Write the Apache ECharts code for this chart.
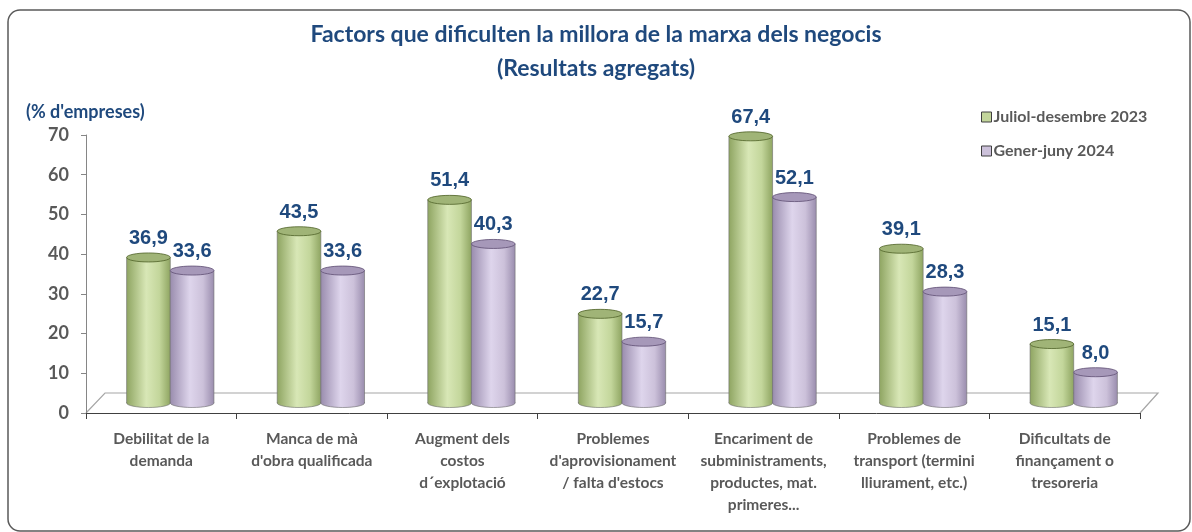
<!DOCTYPE html>
<html>
<head>
<meta charset="utf-8">
<script src="https://cdn.jsdelivr.net/npm/echarts@6/dist/echarts.min.js"></script>
<style>
  html, body { margin: 0; padding: 0; background: #fff; }
  #chart { width: 1192px; height: 532px; }
</style>
</head>
<body>
<div id="chart"></div>
<script>
const categories = [
  'Debilitat de la\ndemanda',
  'Manca de mà\nd\'obra qualificada',
  'Augment dels\ncostos\nd´explotació',
  'Problemes\nd\'aprovisionament\n/ falta d\'estocs',
  'Encariment de\nsubministraments,\nproductes, mat.\nprimeres...',
  'Problemes de\ntransport (termini\nlliurament, etc.)',
  'Dificultats de\nfinançament o\ntresoreria'
]
const seriesNames = ['Juliol-desembre 2023', 'Gener-juny 2024']
const valuesH2_2023 = [36.9, 43.5, 51.4, 22.7, 67.4, 39.1, 15.1]
const valuesH1_2024 = [33.6, 33.6, 40.3, 15.7, 52.1, 28.3, 8.0]
const yTicks = [0, 10, 20, 30, 40, 50, 60, 70]

const palette = [
  { base: '#C3D69B', dark: '#8FA562', light: '#D8E7B6', top: '#A0B477', edge: '#4F6228' },
  { base: '#CCC1DA', dark: '#9A8DAE', light: '#DED5EC', top: '#A698B9', edge: '#5F4F73' }
]

const chart = echarts.init(document.getElementById('chart'))

function cylinder(side, colors) {
  return function (params, api) {
    const idx = api.value(0)
    const val = api.value(1)
    const base = api.coord([idx, 0])
    const top = api.coord([idx, val])
    const band = api.size([1, 0])[0]
    const w = band * 0.29
    const depth = 9
    const ry = 4.5
    const cx = base[0] + depth + side * w / 2
    const x0 = cx - w / 2
    const yTop = top[1] - depth
    const yBot = base[1] - depth - 1
    const grad = {
      type: 'linear', x: 0, y: 0, x2: 1, y2: 0,
      colorStops: [
        { offset: 0, color: colors.dark },
        { offset: 0.45, color: colors.light },
        { offset: 0.75, color: colors.base },
        { offset: 1, color: colors.dark }
      ]
    }
    return {
      type: 'group',
      children: [
        { type: 'ellipse', shape: { cx: cx, cy: yBot, rx: w / 2, ry: ry },
          style: { fill: grad, stroke: '#6b6b6b', lineWidth: 0.6 } },
        { type: 'rect', shape: { x: x0, y: yTop, width: w, height: yBot - yTop },
          style: { fill: grad } },
        { type: 'line', shape: { x1: x0, y1: yTop, x2: x0, y2: yBot },
          style: { stroke: '#6b6b6b', lineWidth: 0.6 } },
        { type: 'line', shape: { x1: x0 + w, y1: yTop, x2: x0 + w, y2: yBot },
          style: { stroke: '#6b6b6b', lineWidth: 0.6 } },
        { type: 'ellipse', shape: { cx: cx, cy: yTop, rx: w / 2, ry: ry },
          style: { fill: colors.top, stroke: colors.edge, lineWidth: 0.8 } },
        { type: 'text',
          style: {
            text: val.toFixed(1).replace('.', ','),
            x: cx, y: yTop - 19,
            align: 'center', verticalAlign: 'middle',
            font: 'bold 20px "Liberation Sans", Arial, sans-serif',
            fill: '#1F497D'
          } }
      ]
    }
  }
}

const gridLeft = 86, gridRight = 1140, gridBottomY = 413, gridTopY = 135
const labelFont = { color: '#595959', fontFamily: 'Lato', fontWeight: 'bold' }

chart.setOption({
  animation: false,
  title: [
    {
      text: 'Factors que dificulten la millora de la marxa dels negocis',
      left: 'center', top: 18,
      textStyle: { color: '#1F497D', fontFamily: 'Lato', fontWeight: 'bold', fontSize: 23 }
    },
    {
      text: '(Resultats agregats)',
      left: 'center', top: 52,
      textStyle: { color: '#1F497D', fontFamily: 'Lato', fontWeight: 'bold', fontSize: 23 }
    },
    {
      text: '(% d\'empreses)',
      left: 21, top: 98,
      textStyle: { color: '#1F497D', fontFamily: 'Lato', fontWeight: 'bold', fontSize: 18 }
    }
  ],
  legend: {
    orient: 'vertical',
    left: 976, top: 104,
    itemWidth: 10, itemHeight: 10, itemGap: 18,
    icon: 'rect',
    data: seriesNames,
    itemStyle: { borderColor: '#404040', borderWidth: 1 },
    textStyle: Object.assign({ fontSize: 16, padding: [0, 0, 0, -3] }, labelFont)
  },
  graphic: [
    { type: 'rect', shape: { x: 8, y: 10, width: 1182, height: 521, r: 12 },
      style: { fill: 'none', stroke: '#5a5a5a', lineWidth: 1.5 }, z: -1 },
    { type: 'polyline',
      shape: { points: [[gridLeft, gridBottomY], [gridLeft + 19, gridBottomY - 20], [gridRight + 18, gridBottomY - 20], [gridRight, gridBottomY]] },
      style: { fill: 'none', stroke: '#A6A6A6', lineWidth: 1.2 }, z: 0 }
  ],
  grid: { left: gridLeft, right: 1192 - gridRight, top: gridTopY, bottom: 532 - gridBottomY },
  xAxis: {
    type: 'category',
    data: categories,
    boundaryGap: true,
    axisLine: { lineStyle: { color: '#404040', width: 1 } },
    axisTick: { show: true, length: 6, lineStyle: { color: '#404040' } },
    axisLabel: Object.assign({ interval: 0, margin: 15, lineHeight: 22, fontSize: 15.5 }, labelFont)
  },
  yAxis: {
    type: 'value',
    min: yTicks[0], max: yTicks[yTicks.length - 1], interval: 10,
    axisLine: { show: true, lineStyle: { color: '#868686' } },
    axisTick: { show: true, length: 5, lineStyle: { color: '#868686' } },
    splitLine: { show: false },
    axisLabel: Object.assign({ margin: 17, fontSize: 18 }, labelFont)
  },
  series: [
    {
      name: seriesNames[0], type: 'custom',
      itemStyle: { color: palette[0].base },
      renderItem: cylinder(-1, palette[0]),
      encode: { x: 0, y: 1 },
      data: valuesH2_2023.map((v, i) => [i, v]),
      z: 3
    },
    {
      name: seriesNames[1], type: 'custom',
      itemStyle: { color: palette[1].base },
      renderItem: cylinder(1, palette[1]),
      encode: { x: 0, y: 1 },
      data: valuesH1_2024.map((v, i) => [i, v]),
      z: 3
    }
  ]
})
</script>
</body>
</html>
